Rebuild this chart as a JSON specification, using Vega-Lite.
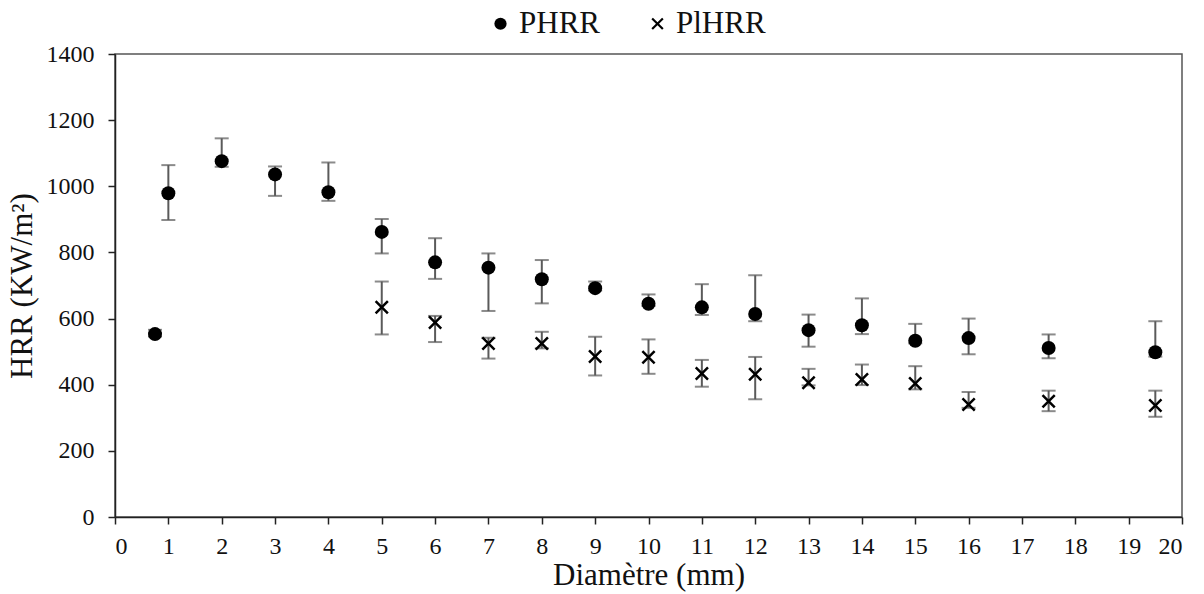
{
  "$schema": "https://vega.github.io/schema/vega-lite/v6.json",
  "width": 1067,
  "height": 463,
  "padding": {"left": 6, "top": 8, "right": 10, "bottom": 5},
  "background": "white",
  "config": {
    "font": "Liberation Serif",
    "style": {"guide-label": {"font": "Liberation Serif", "fontSize": 24}, "guide-title": {"font": "Liberation Serif"}},
    "view": {"stroke": "#555555", "strokeWidth": 1.5},
    "axis": {"grid": false, "domainColor": "#222222", "domainWidth": 1.5, "tickColor": "#222222", "tickWidth": 1.5, "tickSize": 7, "labelFont": "Liberation Serif", "labelFontSize": 24, "labelColor": "#111111", "titleFont": "Liberation Serif", "titleFontSize": 31, "titleFontWeight": "normal", "titleColor": "#111111"},
    "axisX": {"labelFont": "Liberation Serif"},
    "axisY": {"labelFont": "Liberation Serif"},
    "legend": {"labelFont": "Liberation Serif", "labelFontSize": 31, "labelColor": "#111111"}
  },
  "data": {"values": [
    {"d": 0.75, "series": "PHRR", "v": 553, "lo": 546, "hi": 566},
    {"d": 1, "series": "PHRR", "v": 979, "lo": 898, "hi": 1064},
    {"d": 2, "series": "PHRR", "v": 1076, "lo": 1059, "hi": 1145},
    {"d": 3, "series": "PHRR", "v": 1036, "lo": 971, "hi": 1060},
    {"d": 4, "series": "PHRR", "v": 982, "lo": 956, "hi": 1072},
    {"d": 5, "series": "PHRR", "v": 862, "lo": 797, "hi": 901},
    {"d": 6, "series": "PHRR", "v": 770, "lo": 720, "hi": 843},
    {"d": 7, "series": "PHRR", "v": 754, "lo": 623, "hi": 797},
    {"d": 8, "series": "PHRR", "v": 719, "lo": 646, "hi": 777},
    {"d": 9, "series": "PHRR", "v": 692, "lo": 685, "hi": 712},
    {"d": 10, "series": "PHRR", "v": 645, "lo": 638, "hi": 673},
    {"d": 11, "series": "PHRR", "v": 634, "lo": 611, "hi": 704},
    {"d": 12, "series": "PHRR", "v": 614, "lo": 592, "hi": 731},
    {"d": 13, "series": "PHRR", "v": 565, "lo": 515, "hi": 612},
    {"d": 14, "series": "PHRR", "v": 580, "lo": 553, "hi": 661},
    {"d": 15, "series": "PHRR", "v": 533, "lo": 525, "hi": 584},
    {"d": 16, "series": "PHRR", "v": 541, "lo": 492, "hi": 600},
    {"d": 17.5, "series": "PHRR", "v": 511, "lo": 480, "hi": 552},
    {"d": 19.5, "series": "PHRR", "v": 498, "lo": 485, "hi": 592},
    {"d": 5, "series": "PlHRR", "v": 634, "lo": 552, "hi": 712},
    {"d": 6, "series": "PlHRR", "v": 588, "lo": 529, "hi": 608},
    {"d": 7, "series": "PlHRR", "v": 525, "lo": 479, "hi": 542},
    {"d": 8, "series": "PlHRR", "v": 525, "lo": 510, "hi": 560},
    {"d": 9, "series": "PlHRR", "v": 485, "lo": 428, "hi": 545},
    {"d": 10, "series": "PlHRR", "v": 483, "lo": 433, "hi": 537},
    {"d": 11, "series": "PlHRR", "v": 434, "lo": 394, "hi": 475},
    {"d": 12, "series": "PlHRR", "v": 432, "lo": 356, "hi": 484},
    {"d": 13, "series": "PlHRR", "v": 406, "lo": 398, "hi": 448},
    {"d": 14, "series": "PlHRR", "v": 416, "lo": 399, "hi": 461},
    {"d": 15, "series": "PlHRR", "v": 404, "lo": 386, "hi": 456},
    {"d": 16, "series": "PlHRR", "v": 340, "lo": 330, "hi": 378},
    {"d": 17.5, "series": "PlHRR", "v": 350, "lo": 320, "hi": 382},
    {"d": 19.5, "series": "PlHRR", "v": 337, "lo": 303, "hi": 382}
  ]},
  "encoding": {
    "x": {"field": "d", "type": "quantitative", "scale": {"domain": [0, 20]},
      "axis": {"title": "Diamètre (mm)", "values": [0,1,2,3,4,5,6,7,8,9,10,11,12,13,14,15,16,17,18,19,20], "labelPadding": 10, "titlePadding": 2, "labelFont": "Liberation Serif", "labelFontSize": 24}}
  },
  "layer": [
    {
      "mark": {"type": "errorbar", "color": "#5a5a5a", "thickness": 2, "ticks": {"size": 14}},
      "encoding": {
        "y": {"field": "lo", "type": "quantitative", "scale": {"domain": [0, 1400]},
          "axis": {"title": "HRR (KW/m²)", "format": "d", "values": [0,200,400,600,800,1000,1200,1400], "labelPadding": 14, "titlePadding": 8, "labelFont": "Liberation Serif", "labelFontSize": 24}},
        "y2": {"field": "hi"}
      }
    },
    {
      "mark": {"type": "point", "filled": true, "opacity": 1, "size": 196, "fill": "black", "strokeWidth": 0},
      "encoding": {
        "y": {"field": "v", "type": "quantitative", "scale": {"domain": [0, 1400]},
          "axis": {"title": "HRR (KW/m²)", "format": "d", "values": [0,200,400,600,800,1000,1200,1400], "labelPadding": 14, "titlePadding": 8, "labelFont": "Liberation Serif", "labelFontSize": 24}},
        "shape": {"field": "series", "type": "nominal",
          "scale": {"domain": ["PHRR", "PlHRR"], "range": ["circle", "M-1,-0.75L-0.75,-1L0,-0.25L0.75,-1L1,-0.75L0.25,0L1,0.75L0.75,1L0,0.25L-0.75,1L-1,0.75L-0.25,0Z"]},
          "legend": {"title": null, "orient": "none", "legendX": 370, "legendY": -46, "direction": "horizontal", "symbolSize": 150, "symbolFillColor": "black", "symbolStrokeWidth": 0, "columnPadding": 42, "labelOffset": 3,
            "encode": {"symbols": {"update": {"fill": {"value": "black"}, "opacity": {"value": 1}, "fillOpacity": {"value": 1}}}}}}
      }
    }
  ]
}
